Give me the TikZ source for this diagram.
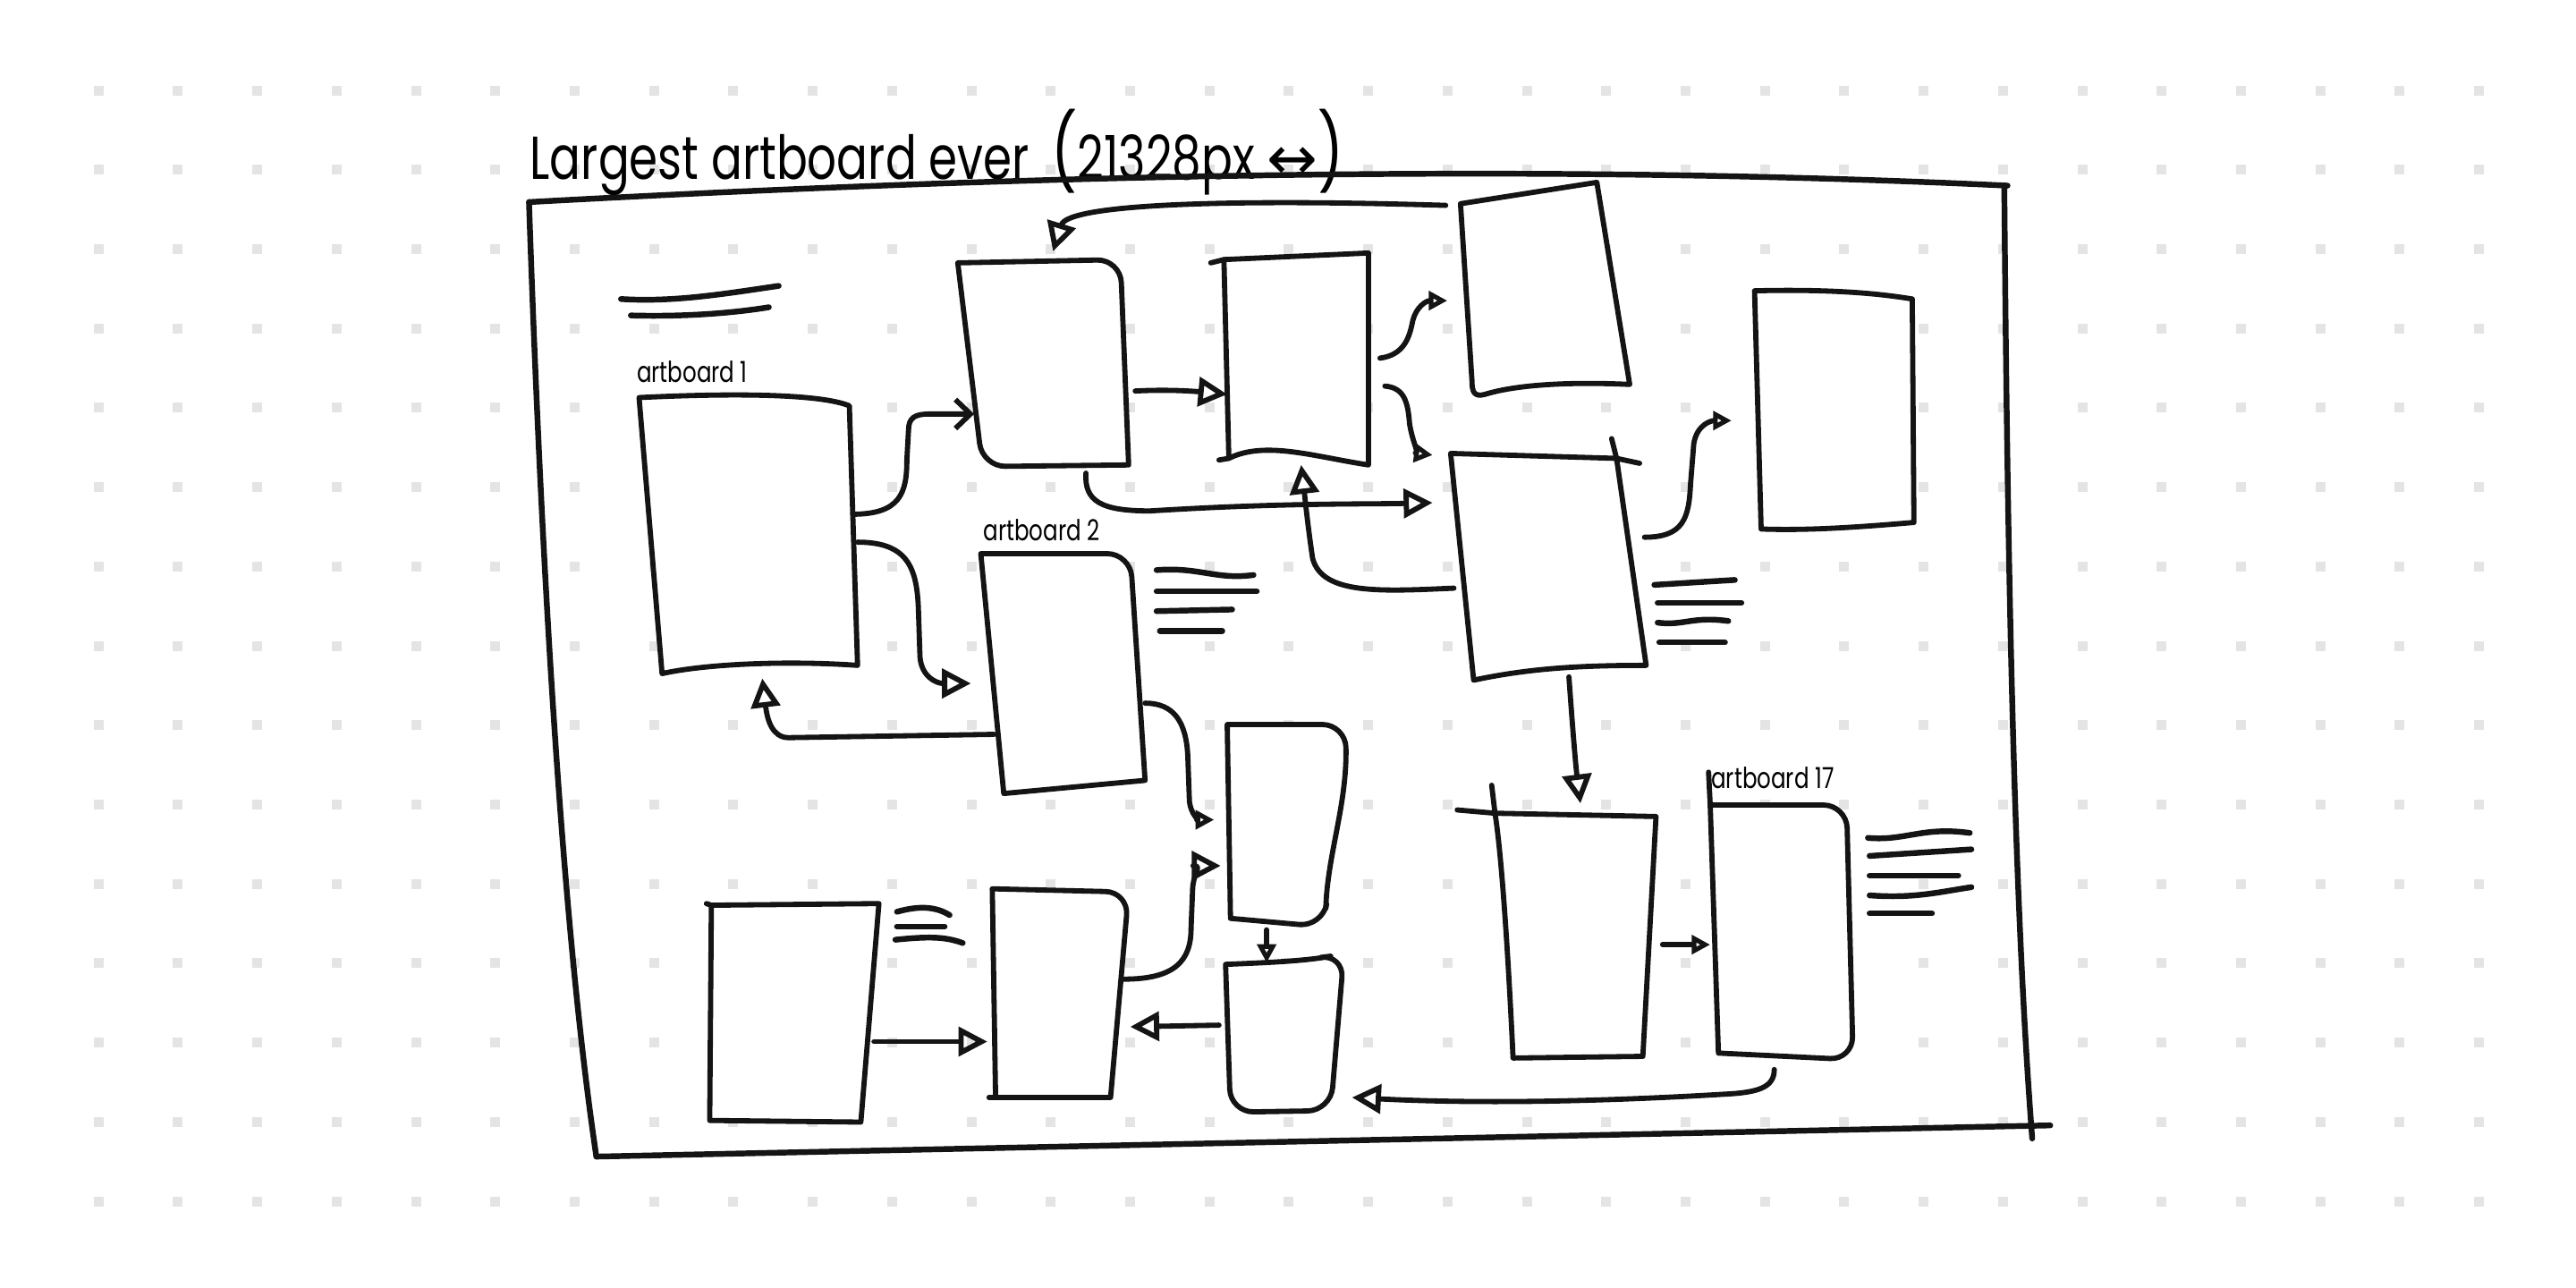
\documentclass[tikz,border=0pt]{standalone}
\usepackage{fontspec}
\newfontfamily\sketchfont[FakeStretch=0.76]{Poppins}
\newfontfamily\symfont{DejaVu Sans}
\usetikzlibrary{arrows.meta}
\definecolor{Ink}{HTML}{141414}
\definecolor{GridDot}{HTML}{E4E4E4}

\begin{document}
\begin{tikzpicture}[x=0.01cm, y=-0.01cm,
  ink/.style={draw=Ink, line width=0.9pt, line cap=round, line join=round},
  board/.style={ink, fill=white},
  scribble/.style={ink, line width=1pt},
  link/.style={ink, -{Triangle[open, length=5pt, width=5pt]}},
  minilink/.style={ink, -{Triangle[open, length=3.2pt, width=3.2pt]}},
  barb/.style={ink, -{Straight Barb[length=2.6pt, width=5pt]}},
  lbl/.style={font=\sketchfont\fontsize{5}{6}\selectfont, inner sep=0pt, anchor=base west}
]
\useasboundingbox (0,0) rectangle (1568,784);

%% ---- Dot grid ----
\foreach \i in {0,...,30}
  \foreach \j in {0,...,14}
    \fill[GridDot] ({57+48.3*\i},{52+48.3*\j}) rectangle ++(6,6);

%% ---- Title ----
\node[font=\sketchfont\fontsize{10.5}{12}\selectfont, inner sep=0pt, anchor=base west]
  (title) at (322,109) {Largest artboard ever \,{\fontsize{13}{13}\selectfont(}21328px {\symfont↔}{\fontsize{13}{13}\selectfont)}};

%% ---- Outer artboard ----
\draw[ink, line width=1pt] (322,123) .. controls (650,105) and (950,100) .. (1222,113);
\draw[ink, line width=1pt] (1220,113) .. controls (1222,350) and (1226,550) .. (1237,693);
\draw[ink, line width=1pt] (322,123) .. controls (328,300) and (340,550) .. (363,704);
\draw[ink, line width=1pt] (363,704) -- (1248,685);

%% ---- Notes ----
\draw[scribble] (378,182) .. controls (410,184) and (440,179) .. (474,174);
\draw[scribble] (384,192) .. controls (420,193) and (450,190) .. (468,187);

%% ---- Artboard 1 ----
\node[lbl] (lbl1) at (387,233) {artboard 1};
\draw[board] (389,242) .. controls (450,239) and (500,240) .. (517,247)
  -- (522,405) .. controls (480,402) and (430,404) .. (403,410) -- cycle;
\coordinate (ab1 e1) at (519,313);
\coordinate (ab1 e2) at (522,330);
\coordinate (ab1 s)  at (464,413);

%% ---- Top row ----
\draw[board] (583,160) [rounded corners=4] -- (682,158) [sharp corners] -- (687,283)
  [rounded corners=4] -- (598,284) [sharp corners] -- cycle;
\coordinate (top2 n)  at (641,153);
\coordinate (top2 w)  at (593,252);
\coordinate (top2 e)  at (691,238);
\coordinate (top2 s)  at (661,288);

\draw[board] (745,158) -- (833,154) -- (833,283)
  .. controls (800,278) and (770,268) .. (748,279) -- cycle;
\draw[ink] (737,160) -- (745,158);
\draw[ink] (742,280) -- (748,279);
\coordinate (top3 w)  at (747,240);
\coordinate (top3 e1) at (840,218);
\coordinate (top3 e2) at (843,235);
\coordinate (top3 s)  at (792,283);

\draw[board] (889,124) -- (972,111) -- (992,234)
  .. controls (950,232) and (920,235) .. (904,240)
  .. controls (897,242) and (896,238) .. (896,232) -- cycle;
\coordinate (top4 nw) at (880,125);
\coordinate (top4 w)  at (881,183);

\draw[board] (1068,177) .. controls (1110,176) and (1140,178) .. (1164,182)
  -- (1165,318) .. controls (1130,321) and (1100,323) .. (1072,322) -- cycle;
\coordinate (right5 w) at (1054,256);

%% ---- Middle ----
\draw[board] (883,276) -- (984,279) -- (1002,405)
  .. controls (960,405) and (930,407) .. (897,414) -- cycle;
\draw[ink] (984,279) -- (998,282);
\draw[ink] (984,279) -- (981,267);
\coordinate (mid6 nw) at (872,277);
\coordinate (mid6 w1) at (872,306);
\coordinate (mid6 w2) at (885,358);
\coordinate (mid6 e)  at (1001,327);
\coordinate (mid6 s)  at (955,412);
\draw[scribble] (1007,356) -- (1056,353);
\draw[scribble] (1009,367) -- (1060,367);
\draw[scribble] (1009,379) .. controls (1025,381) and (1030,375) .. (1052,378);
\draw[scribble] (1010,391) -- (1050,391);

\node[lbl] (lbl2) at (598,329) {artboard 2};
\draw[board] (597,337) [rounded corners=4] -- (688,337) [sharp corners] -- (697,475)
  -- (611,483) -- cycle;
\coordinate (ab2 w)  at (591,416);
\coordinate (ab2 sw) at (605,447);
\coordinate (ab2 e)  at (697,428);
\draw[scribble] (704,347) .. controls (730,345) and (740,353) .. (763,350);
\draw[scribble] (704,360) -- (765,360);
\draw[scribble] (704,372) -- (750,371);
\draw[scribble] (706,384) -- (744,384);

\draw[board] (747,441) [rounded corners=4] -- (819,441) [sharp corners]
  .. controls (820,490) and (808,520) .. (807,553) [rounded corners=4] -- (805,564)
  [sharp corners] -- (749,559) -- cycle;
\coordinate (mid8 w1) at (739,499);
\coordinate (mid8 w2) at (743,527);
\coordinate (mid8 s)  at (771,566);

%% ---- Bottom row ----
\draw[board] (746,587) .. controls (770,586) and (795,585) .. (810,582)
  [rounded corners=4] -- (818,581) -- (810,676) -- (749,677) [sharp corners] -- cycle;
\coordinate (low9 n) at (771,586);
\coordinate (low9 w) at (742,624);
\coordinate (low9 e) at (823,668);

\draw[board] (433,551) -- (535,550) -- (524,683) -- (432,682) -- cycle;
\draw[ink] (430,550) -- (433,551);
\coordinate (low10 e) at (532,634);
\draw[scribble] (546,555) .. controls (560,551) and (570,552) .. (578,557);
\draw[scribble] (546,564) -- (575,564);
\draw[scribble] (545,572) .. controls (565,570) and (575,570) .. (586,574);

\draw[board] (604,541) [rounded corners=4] -- (687,543) [sharp corners] -- (676,668)
  -- (606,668) -- cycle;
\draw[ink] (602,668) -- (606,668);
\coordinate (low11 w) at (601,634);
\coordinate (low11 e1) at (684,596);
\coordinate (low11 e2) at (688,625);

\draw[board] (910,495) -- (1008,497) -- (1000,643) -- (921,644)
  .. controls (918,580) and (914,520) .. cycle;
\draw[ink] (887,493) -- (910,495);
\draw[ink] (910,495) -- (908,478);
\coordinate (low12 n) at (962,489);
\coordinate (low12 e) at (1012,575);

\node[lbl] (lbl17) at (1041,480) {artboard 17};
\draw[board] (1041,490) [rounded corners=4] -- (1124,490) -- (1128,645) [sharp corners]
  -- (1046,641) -- cycle;
\draw[ink] (1040,470) -- (1041,490);
\coordinate (ab17 w) at (1041,575);
\coordinate (ab17 s) at (1080,651);
\draw[scribble] (1137,510) .. controls (1160,512) and (1170,503) .. (1199,507);
\draw[scribble] (1138,521) -- (1200,517);
\draw[scribble] (1138,533) -- (1192,533);
\draw[scribble] (1138,545) .. controls (1165,547) and (1180,543) .. (1200,540);
\draw[scribble] (1138,556) -- (1176,556);

%% ---- Arrows ----
\draw[link] (top4 nw) .. controls (750,121) and (650,124) .. (top2 n);
\draw[barb] (ab1 e1) .. controls (548,313) and (552,300) .. (552,280)
  -- (553,262) .. controls (553,254) and (557,252) .. (566,252) -- (top2 w);
\draw[link] (ab1 e2) .. controls (552,330) and (558,345) .. (559,370)
  -- (560,400) .. controls (561,412) and (570,416) .. (ab2 w);
\draw[link] (ab2 sw) -- (480,449) .. controls (470,449) and (467,438) .. (ab1 s);
\draw[link] (top2 e) .. controls (710,237) and (725,238) .. (top3 w);
\draw[link] (top2 s) .. controls (660,305) and (670,311) .. (700,311)
  .. controls (780,306) and (830,307) .. (mid6 w1);
\draw[link] (mid6 w2) .. controls (840,360) and (805,362) .. (799,340)
  .. controls (796,320) and (794,300) .. (top3 s);
\draw[minilink] (top3 e1) .. controls (855,216) and (858,205) .. (860,195)
  .. controls (862,187) and (868,183) .. (top4 w);
\draw[minilink] (top3 e2) .. controls (855,236) and (857,245) .. (858,258)
  .. controls (860,270) and (864,276) .. (mid6 nw);
\draw[minilink] (mid6 e) .. controls (1025,327) and (1028,315) .. (1029,295)
  -- (1031,270) .. controls (1033,258) and (1042,256) .. (right5 w);
\draw[link] (mid6 s) .. controls (957,440) and (959,465) .. (low12 n);
\draw[minilink] (ab2 e) .. controls (715,428) and (722,440) .. (723,460)
  -- (724,488) .. controls (725,496) and (730,499) .. (mid8 w1);
\draw[link] (low11 e1) .. controls (715,596) and (725,585) .. (725,565)
  -- (726,540) .. controls (727,530) and (732,527) .. (mid8 w2);
\draw[minilink] (mid8 s) -- (low9 n);
\draw[link] (low9 w) -- (low11 e2);
\draw[link] (low10 e) -- (low11 w);
\draw[minilink] (low12 e) -- (ab17 w);
\draw[link] (ab17 s) .. controls (1080,662) and (1070,665) .. (1050,666)
  .. controls (950,672) and (880,671) .. (low9 e);

\end{tikzpicture}
\end{document}
